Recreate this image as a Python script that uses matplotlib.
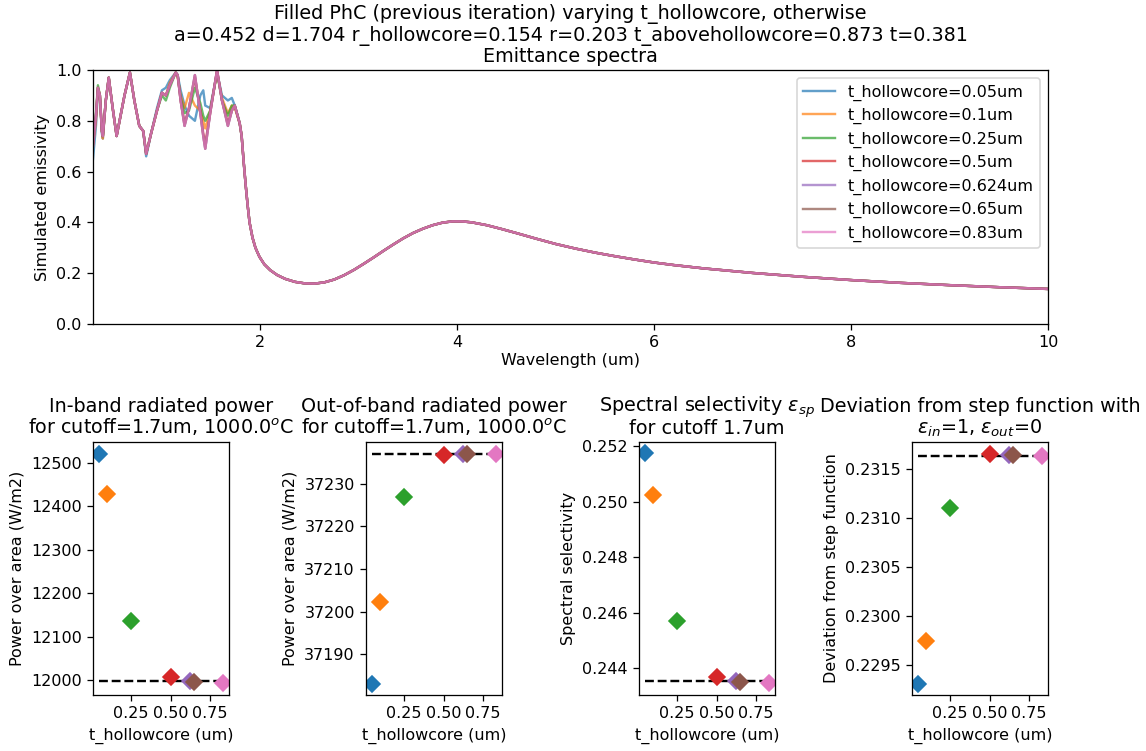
import numpy as np
import matplotlib
matplotlib.use("Agg")
import matplotlib.pyplot as plt

# ---------------- data ----------------
labels = ["0.05", "0.1", "0.25", "0.5", "0.624", "0.65", "0.83"]
t_hollowcore = [0.05, 0.1, 0.25, 0.5, 0.624, 0.65, 0.83]

# short-wavelength part (series differ here)
wl_head = [0.30, 0.33, 0.35, 0.37, 0.39, 0.40, 0.43, 0.46, 0.50, 0.54, 0.57, 0.62,
           0.675, 0.72, 0.77, 0.81, 0.84, 0.89, 0.95, 1.00, 1.04, 1.08, 1.14, 1.16,
           1.19, 1.23, 1.275, 1.335, 1.39, 1.42, 1.44, 1.49, 1.56, 1.61, 1.67, 1.71,
           1.74, 1.79]
em_005 = [0.65, 0.78, 0.92, 0.90, 0.75, 0.73, 0.88, 0.97, 0.85, 0.74, 0.80, 0.90,
          0.99, 0.88, 0.78, 0.76, 0.66, 0.75, 0.85, 0.92, 0.93, 0.96, 0.99, 0.98,
          0.92, 0.86, 0.82, 0.80, 0.90, 0.92, 0.86, 0.85, 0.99, 0.90, 0.88, 0.89,
          0.86, 0.79]
em_01 = [0.70, 0.80, 0.93, 0.90, 0.76, 0.73, 0.88, 0.97, 0.85, 0.74, 0.80, 0.90,
         0.99, 0.88, 0.78, 0.76, 0.67, 0.75, 0.84, 0.91, 0.90, 0.95, 0.99, 0.97,
         0.90, 0.85, 0.91, 0.86, 0.84, 0.80, 0.77, 0.84, 0.99, 0.89, 0.83, 0.86,
         0.85, 0.79]
em_025 = [0.71, 0.83, 0.94, 0.90, 0.76, 0.74, 0.88, 0.97, 0.85, 0.74, 0.80, 0.90,
          0.99, 0.88, 0.78, 0.76, 0.67, 0.75, 0.84, 0.90, 0.88, 0.93, 0.99, 0.98,
          0.89, 0.83, 0.84, 0.93, 0.87, 0.82, 0.80, 0.84, 0.99, 0.88, 0.82, 0.86,
          0.86, 0.79]
em_05 = [0.71, 0.82, 0.93, 0.90, 0.76, 0.74, 0.88, 0.97, 0.85, 0.74, 0.80, 0.90,
         0.99, 0.88, 0.78, 0.76, 0.67, 0.75, 0.84, 0.91, 0.90, 0.94, 0.99, 0.98,
         0.88, 0.79, 0.85, 0.97, 0.84, 0.75, 0.71, 0.83, 1.00, 0.88, 0.79, 0.84,
         0.86, 0.79]
em_0624 = [0.70, 0.82, 0.93, 0.90, 0.76, 0.74, 0.88, 0.97, 0.85, 0.74, 0.80, 0.90,
           0.99, 0.88, 0.78, 0.76, 0.67, 0.75, 0.84, 0.91, 0.90, 0.94, 0.99, 0.98,
           0.88, 0.78, 0.85, 0.98, 0.83, 0.74, 0.69, 0.83, 1.00, 0.88, 0.78, 0.84,
           0.86, 0.79]
em_065 = [0.71, 0.82, 0.93, 0.90, 0.76, 0.74, 0.88, 0.97, 0.85, 0.74, 0.80, 0.90,
          0.99, 0.88, 0.78, 0.76, 0.67, 0.75, 0.84, 0.91, 0.90, 0.94, 0.99, 0.98,
          0.88, 0.78, 0.85, 0.98, 0.83, 0.74, 0.69, 0.83, 1.00, 0.88, 0.78, 0.84,
          0.86, 0.79]
em_083 = [0.70, 0.82, 0.93, 0.90, 0.76, 0.74, 0.88, 0.97, 0.85, 0.74, 0.80, 0.90,
          0.99, 0.88, 0.78, 0.76, 0.67, 0.75, 0.84, 0.91, 0.90, 0.94, 0.99, 0.98,
          0.88, 0.78, 0.85, 0.98, 0.83, 0.74, 0.69, 0.83, 1.00, 0.88, 0.78, 0.84,
          0.86, 0.79]

# long-wavelength part (identical for all series)
wl_tail = [1.81, 1.83, 1.85, 1.87, 1.89, 1.92, 1.95, 1.99, 2.04, 2.10, 2.17, 2.25,
           2.35, 2.45, 2.55, 2.65, 2.75, 2.85, 2.95, 3.05, 3.15, 3.25, 3.35, 3.45,
           3.55, 3.65, 3.75, 3.85, 3.95, 4.05, 4.15, 4.3, 4.45, 4.6, 4.8, 5.0,
           5.2, 5.4, 5.6, 5.8, 6.0, 6.2, 6.5, 7.0, 7.5, 8.0, 8.5, 9.0, 9.5, 10.0]
em_tail = [0.74, 0.64, 0.55, 0.47, 0.40, 0.34, 0.30, 0.265, 0.235, 0.212, 0.193, 0.178,
           0.166, 0.160, 0.159, 0.164, 0.175, 0.192, 0.213, 0.237, 0.262, 0.288, 0.313, 0.337,
           0.358, 0.375, 0.389, 0.399, 0.404, 0.404, 0.400, 0.389, 0.374, 0.358, 0.336, 0.315,
           0.297, 0.281, 0.267, 0.254, 0.242, 0.232, 0.219, 0.201, 0.186, 0.173, 0.162, 0.153,
           0.145, 0.138]

spectra = [em_005, em_01, em_025, em_05, em_0624, em_065, em_083]

inband = [12521, 12427, 12135, 12008, 11997, 11996, 11992]
inband_ref = 11998
outband = [37183.2, 37202.2, 37226.9, 37236.7, 37236.95, 37237.0, 37237.0]
outband_ref = 37237.1
selectivity = [0.25174, 0.25023, 0.24569, 0.24370, 0.24353, 0.24350, 0.24345]
selectivity_ref = 0.24354
deviation = [0.22931, 0.22974, 0.23110, 0.23166, 0.23164, 0.23164, 0.23163]
deviation_ref = 0.23163

# ---------------- plot ----------------
W, H = 1146, 751
DPI = 115
fig = plt.figure(figsize=(W / DPI, H / DPI), dpi=DPI)
colors = plt.rcParams["axes.prop_cycle"].by_key()["color"]

def rect(x0, y0, x1, y1):
    return [x0 / W, 1 - y1 / H, (x1 - x0) / W, (y1 - y0) / H]

ax = fig.add_axes(rect(93, 70, 1048, 324))
for i, em in enumerate(spectra):
    wl = wl_head + wl_tail
    ee = em + em_tail
    ax.plot(wl, ee, color=colors[i], alpha=0.7, lw=1.5,
            label="t_hollowcore=" + labels[i] + "um")
ax.set_xlim(0.3, 10)
ax.set_ylim(0, 1)
ax.set_xlabel("Wavelength (um)", labelpad=1.5)
ax.set_ylabel("Simulated emissivity")
ax.set_title("Filled PhC (previous iteration) varying t_hollowcore, otherwise\n"
             "a=0.452 d=1.704 r_hollowcore=0.154 r=0.203 t_abovehollowcore=0.873 t=0.381\n"
             "Emittance spectra", fontsize=12, linespacing=1.1, pad=4.8)
ax.legend(loc="upper right", fontsize=10, labelspacing=0.46)

panels = [
    (93, inband, inband_ref,
     ["In-band radiated power", "for cutoff=1.7um, 1000.0$^o$C"],
     "Power over area (W/m2)"),
    (366, outband, outband_ref,
     ["Out-of-band radiated power", "for cutoff=1.7um, 1000.0$^o$C"],
     "Power over area (W/m2)"),
    (639, selectivity, selectivity_ref,
     ["Spectral selectivity $\\epsilon_{sp}$", "for cutoff 1.7um"],
     "Spectral selectivity"),
    (912, deviation, deviation_ref,
     ["Deviation from step function with", "$\\epsilon_{in}$=1, $\\epsilon_{out}$=0"],
     "Deviation from step function"),
]
for x0, vals, ref, tlines, ylab in panels:
    a = fig.add_axes(rect(x0, 442, x0 + 136, 695))
    a.hlines(ref, min(t_hollowcore), max(t_hollowcore), colors="k", linestyles="--")
    for i, (t, v) in enumerate(zip(t_hollowcore, vals)):
        a.plot([t], [v], marker="D", ms=7.5, color=colors[i], ls="none")
    for line, dy in zip(tlines, (30, 8)):
        a.annotate(line, xy=(0.5, 1.0), xycoords="axes fraction",
                   xytext=(0, dy), textcoords="offset pixels",
                   ha="center", va="baseline", fontsize=12)
    a.set_xlabel("t_hollowcore (um)")
    a.set_ylabel(ylab)
    a.set_xticks([0.25, 0.5, 0.75])
    a.ticklabel_format(axis="y", useOffset=False, style="plain")

fig.savefig("out.png", dpi=DPI)
